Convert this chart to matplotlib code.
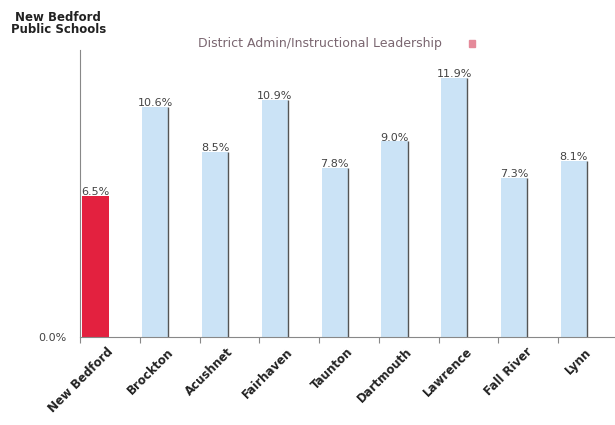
import matplotlib
matplotlib.use("Agg")
import matplotlib.pyplot as plt
import numpy as np

districts = ["New Bedford", "Brockton", "Acushnet", "Fairhaven", "Taunton",
             "Dartmouth", "Lawrence", "Fall River", "Lynn"]
values = [6.5, 10.6, 8.5, 10.9, 7.8, 9.0, 11.9, 7.3, 8.1]
labels = ["6.5%", "10.6%", "8.5%", "10.9%", "7.8%", "9.0%", "11.9%", "7.3%", "8.1%"]

red = "#e3213f"
blue = "#cbe3f6"
colors = [red] + [blue] * (len(values) - 1)

fig = plt.figure(figsize=(6.15, 4.25), dpi=100)
ax = fig.add_axes([0.130, 0.207, 0.875, 0.675])

slots = np.arange(len(values))
bw = 0.44
left = slots + 0.04
ax.bar(left, values, width=bw, align="edge", color=colors, edgecolor="none", zorder=2)
# thin dark line along right side of the blue bars (zero second series look)
ax.vlines(left[1:] + bw, 0, values[1:], color="#555555", lw=1.0, zorder=3)

for x, v, s in zip(left + bw / 2, values, labels):
    ax.text(x, v - 0.05, s, ha="center", va="bottom", fontsize=8,
            color="#444444")

ax.set_xlim(0, len(values))
ax.set_ylim(0, 13.2)

ax.set_xticks(np.arange(len(values)))
ax.set_xticklabels([])
ax.tick_params(axis="x", which="major", length=4, color="#888888", direction="out")
ax.set_xticks(slots + 0.45, minor=True)
ax.set_xticklabels(districts, minor=True, rotation=45, ha="right",
                   rotation_mode="anchor", fontsize=8.5, fontweight="bold",
                   color="#222222")
ax.tick_params(axis="x", which="minor", length=0, pad=6)

ax.set_yticks([0])
ax.set_yticklabels(["0.0%"], fontsize=8, color="#444444")
ax.tick_params(axis="y", length=0, pad=10)

for side in ["top", "right"]:
    ax.spines[side].set_visible(False)
ax.spines["left"].set_color("#888888")
ax.spines["bottom"].set_color("#888888")

fig.text(0.095, 0.975, "New Bedford\nPublic Schools", ha="center", va="top",
         fontsize=8.5, fontweight="bold", color="#222222", linespacing=0.95)

fig.text(0.52, 0.898, "District Admin/Instructional Leadership", ha="center",
         va="center", fontsize=9, color="#7a6670")
fig.patches.append(plt.Rectangle((0.762, 0.889), 0.011, 0.016, color="#e58a9a",
                                 transform=fig.transFigure, figure=fig))

fig.savefig("out.png", dpi=100)
